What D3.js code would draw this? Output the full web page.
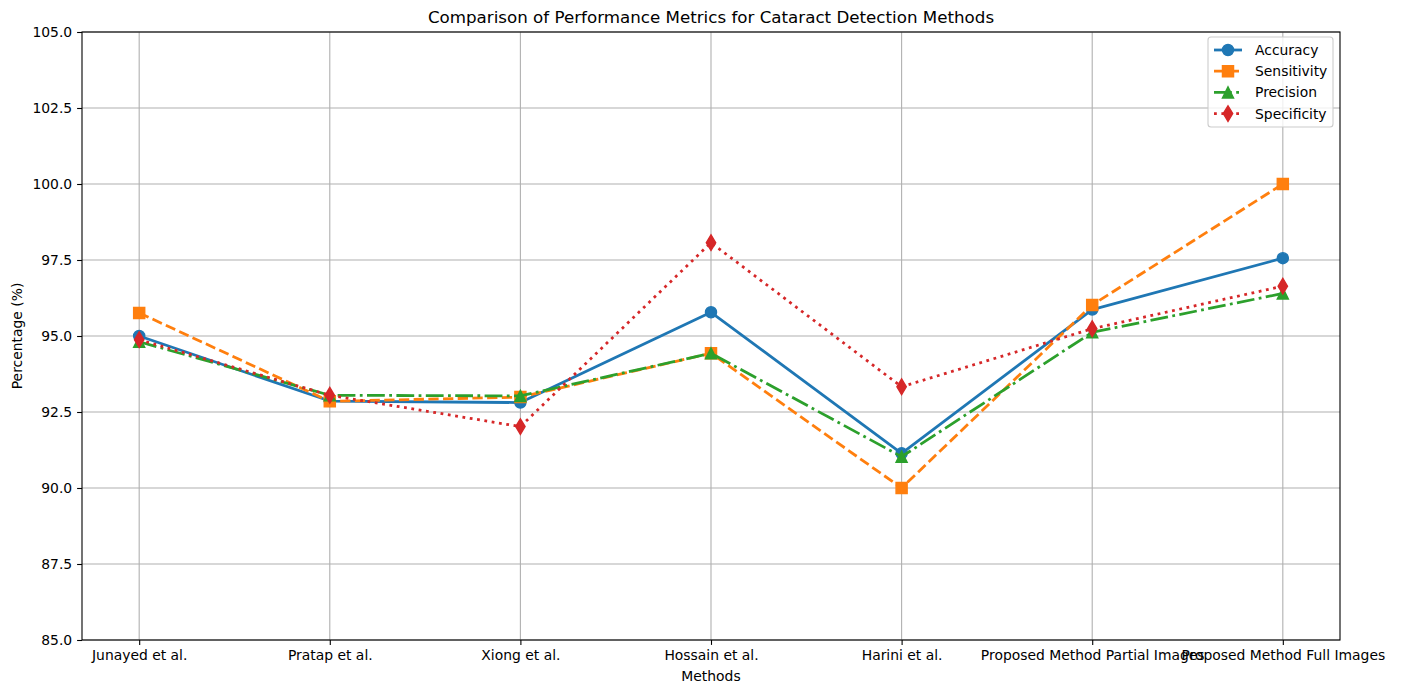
<!DOCTYPE html>
<html><head><meta charset="utf-8">
<script src="https://cdn.jsdelivr.net/npm/d3@7"></script>
<style>body{margin:0;background:#fff}svg{display:block;font-family:"DejaVu Sans",sans-serif}</style>
</head><body><svg id="c" width="1402" height="686"></svg>
<script>
const categories = ["Junayed et al.","Pratap et al.","Xiong et al.","Hossain et al.","Harini et al.","Proposed Method Partial Images","Proposed Method Full Images"];
const accuracy    = [95.0, 92.86, 92.81, 95.78, 91.14, 95.87, 97.56];
const sensitivity = [95.76, 92.85, 92.99, 94.43, 90.0, 96.02, 100.0];
const precision   = [94.81, 93.05, 93.03, 94.43, 91.03, 95.12, 96.4];
const specificity = [94.88, 93.05, 92.02, 98.07, 93.33, 95.24, 96.64];
const yTicks = [85.0, 87.5, 90.0, 92.5, 95.0, 97.5, 100.0, 102.5, 105.0];
const seriesNames = ["Accuracy","Sensitivity","Precision","Specificity"];

const series = [
  {name: seriesNames[0], values: accuracy, color: "#1f77b4", dash: null, marker: "circle"},
  {name: seriesNames[1], values: sensitivity, color: "#ff7f0e", dash: "10.3,4.4", marker: "square"},
  {name: seriesNames[2], values: precision, color: "#2ca02c", dash: "17.8,4.4,2.8,4.4", marker: "triangle"},
  {name: seriesNames[3], values: specificity, color: "#d62728", dash: "2.8,4.6", marker: "diamond"}
];

const svg = d3.select("#c");
const L = 82, R = 1340, T = 32, B = 640;
const x = d3.scalePoint().domain(categories).range([L, R]).padding(0.3);
const y = d3.scaleLinear().domain([85, 105]).range([B, T]);

// grid
const g = svg.append("g");
g.selectAll(".gx").data(categories).join("line")
  .attr("x1", d => x(d)).attr("x2", d => x(d)).attr("y1", T).attr("y2", B)
  .attr("stroke", "#b0b0b0").attr("stroke-width", 1.1);
g.selectAll(".gy").data(yTicks).join("line")
  .attr("x1", L).attr("x2", R).attr("y1", d => y(d)).attr("y2", d => y(d))
  .attr("stroke", "#b0b0b0").attr("stroke-width", 1.1);

// axes
const xAxis = svg.append("g").attr("transform", `translate(0,${B})`)
  .call(d3.axisBottom(x).tickSize(4.9).tickPadding(4.9));
const yAxis = svg.append("g").attr("transform", `translate(${L},0)`)
  .call(d3.axisLeft(y).tickValues(yTicks).tickFormat(d3.format(".1f")).tickSize(4.9).tickPadding(4.9));
[xAxis, yAxis].forEach(a => {
  a.select(".domain").remove();
  a.selectAll(".tick line").attr("stroke", "#000").attr("stroke-width", 1.1);
  a.selectAll(".tick text").attr("fill", "#000").style("font-size", "13.9px").style("font-family", "DejaVu Sans");
});

const MS = 11.1;
function markerPath(type) {
  const h = MS / 2;
  if (type === "circle") return d3.symbol(d3.symbolCircle, Math.PI * h * h)();
  if (type === "square") return `M${-h},${-h}H${h}V${h}H${-h}Z`;
  if (type === "triangle") return `M0,${-h}L${h},${h}L${-h},${h}Z`;
  const dh = MS * Math.SQRT2 / 2, dw = dh * 0.6;
  return `M0,${-dh}L${dw},0L0,${dh}L${-dw},0Z`;
}

const line = d3.line().x((d, i) => x(categories[i])).y(d => y(d));
series.forEach(s => {
  svg.append("path").datum(s.values).attr("d", line)
    .attr("fill", "none").attr("stroke", s.color).attr("stroke-width", 2.78)
    .attr("stroke-dasharray", s.dash).attr("stroke-linejoin", "round")
    .attr("stroke-linecap", s.dash ? "butt" : "round");
  svg.selectAll(null).data(s.values).join("path")
    .attr("transform", (d, i) => `translate(${x(categories[i])},${y(d)})`)
    .attr("d", markerPath(s.marker))
    .attr("fill", s.color).attr("stroke", s.color).attr("stroke-width", 1.39).attr("stroke-linejoin", "miter");
});

// frame
svg.append("rect").attr("x", L).attr("y", T).attr("width", R - L).attr("height", B - T)
  .attr("fill", "none").attr("stroke", "#000").attr("stroke-width", 1.1);

// titles
svg.append("text").attr("x", (L + R) / 2).attr("y", 23).attr("text-anchor", "middle")
  .style("font-size", "16.7px").text("Comparison of Performance Metrics for Cataract Detection Methods");
svg.append("text").attr("x", (L + R) / 2).attr("y", 681).attr("text-anchor", "middle")
  .style("font-size", "13.9px").text("Methods");
svg.append("text").attr("transform", `translate(22,${(T + B) / 2}) rotate(-90)`).attr("text-anchor", "middle")
  .style("font-size", "13.9px").text("Percentage (%)");

// legend
const lg = svg.append("g");
lg.append("rect").attr("x", 1208).attr("y", 37).attr("width", 125).attr("height", 90).attr("rx", 3)
  .attr("fill", "#fff").attr("fill-opacity", 0.8).attr("stroke", "#cccccc").attr("stroke-width", 1.1);
series.forEach((s, i) => {
  const yy = 50 + i * 21.2;
  lg.append("line").attr("x1", 1214).attr("x2", 1242).attr("y1", yy).attr("y2", yy)
    .attr("stroke", s.color).attr("stroke-width", 2.78).attr("stroke-dasharray", s.dash);
  lg.append("path").attr("transform", `translate(1228,${yy})`)
    .attr("d", markerPath(s.marker))
    .attr("fill", s.color).attr("stroke", s.color).attr("stroke-width", 1.39);
  lg.append("text").attr("x", 1255).attr("y", yy + 5).style("font-size", "13.9px").text(s.name);
});
</script></body></html>
